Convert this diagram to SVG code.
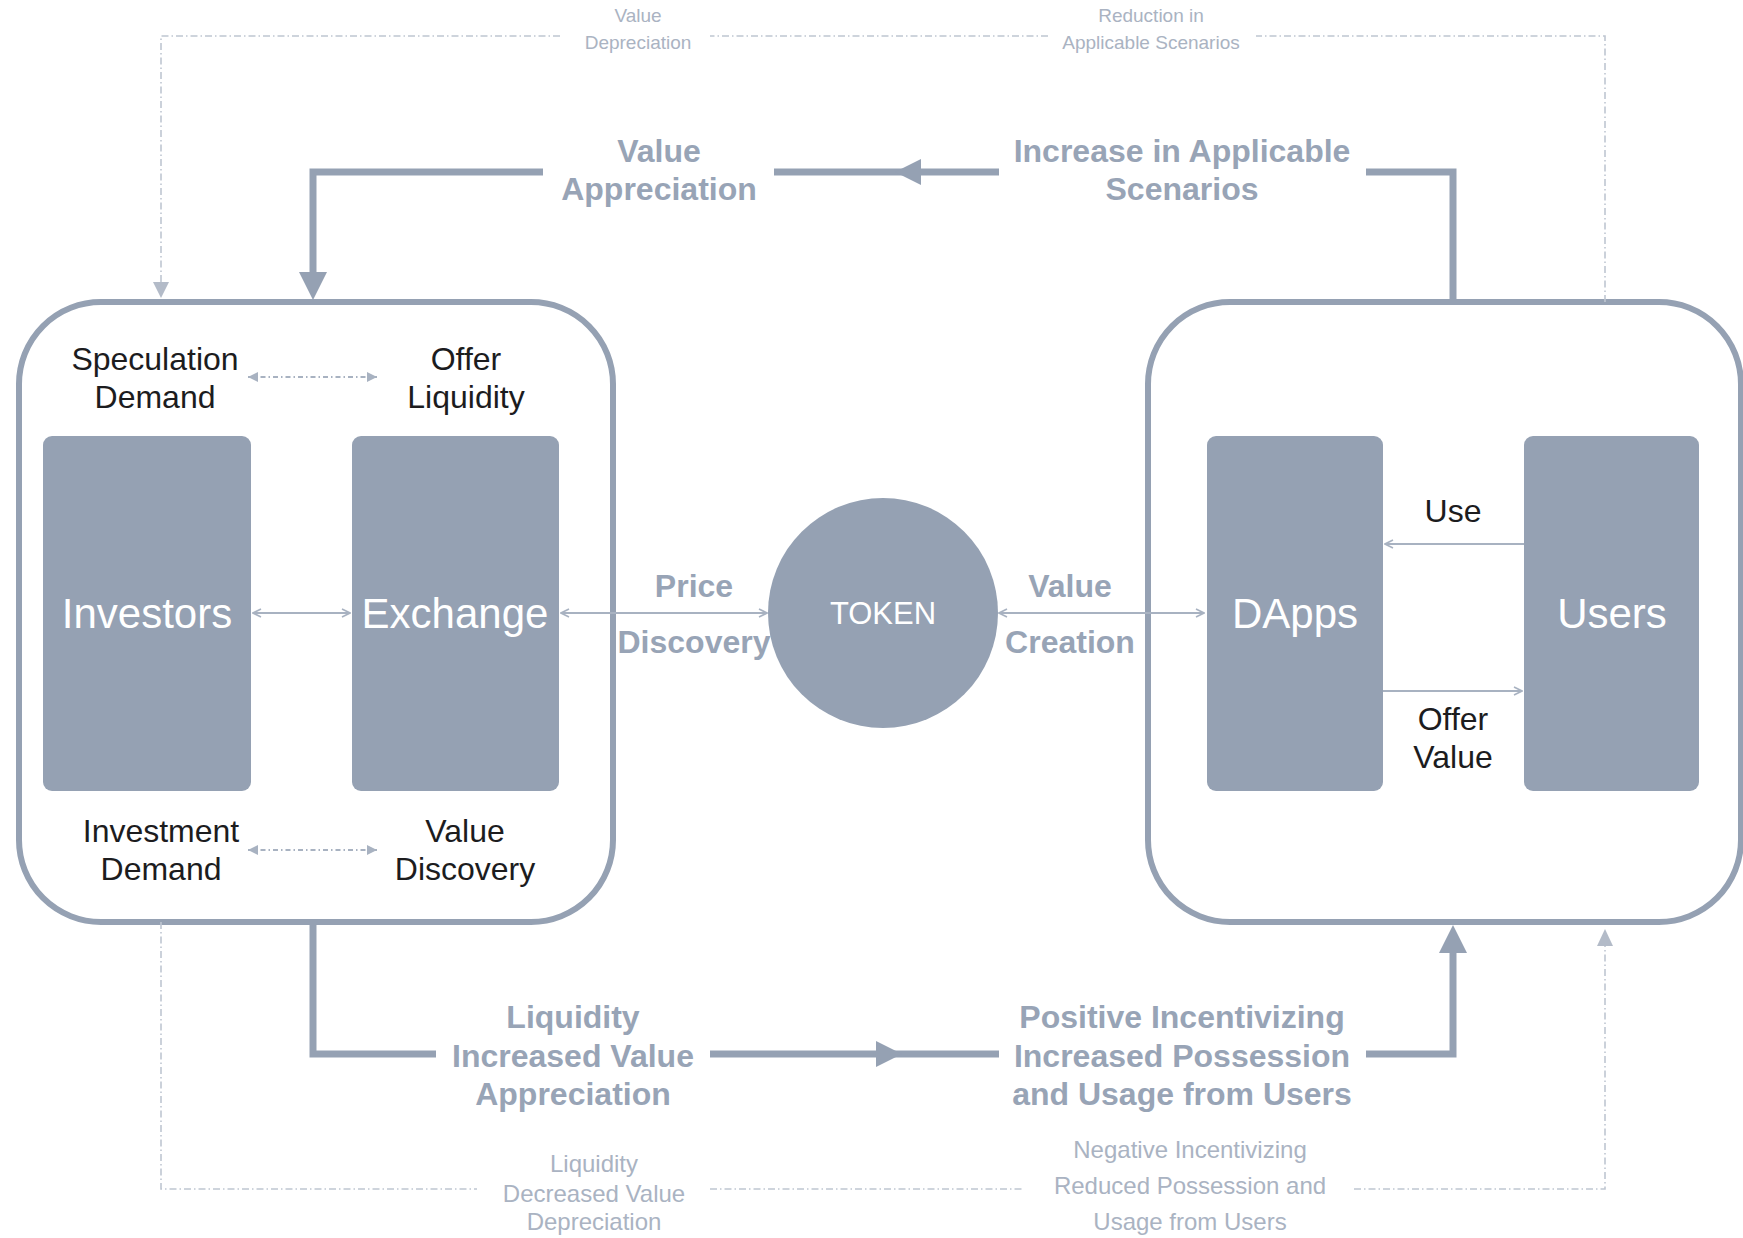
<svg xmlns="http://www.w3.org/2000/svg" width="1743" height="1238" viewBox="0 0 1743 1238">
<style>
text{font-family:"Liberation Sans",Arial,sans-serif;text-anchor:middle}
.bold{font-weight:bold;font-size:32px;fill:#98a4b6}
.blk{font-size:32px;fill:#1c1c1e}
.wht{font-size:42px;fill:#ffffff}
.sm{font-size:19px;fill:#aab3c2}
.md{font-size:24px;fill:#aab3c2}
.frame{fill:#ffffff;stroke:#95a1b3;stroke-width:6}
.blockr{fill:#95a1b3}
.thick{fill:none;stroke:#95a1b3;stroke-width:7}
.thin{fill:none;stroke:#a8b2c1;stroke-width:2}
.dash{fill:none;stroke:#bfc6d1;stroke-width:1.6;stroke-dasharray:7 3 1.5 3}
.dash2{fill:none;stroke:#a8b2c1;stroke-width:2;stroke-dasharray:5 3 1.5 3}
.head{fill:#95a1b3}
.lhead{fill:#b3bbc8}
</style>
<defs>
<marker id="chev" viewBox="0 0 10 10" refX="9" refY="5" markerWidth="10" markerHeight="10" markerUnits="userSpaceOnUse" orient="auto-start-reverse">
<path d="M1,1 L9,5 L1,9" fill="none" stroke="#a8b2c1" stroke-width="1.6"/>
</marker>
<marker id="tri" viewBox="0 0 10 10" refX="10" refY="5" markerWidth="11" markerHeight="10" markerUnits="userSpaceOnUse" orient="auto-start-reverse">
<path d="M0,0 L10,5 L0,10 Z" fill="#a8b2c1"/>
</marker>
</defs>
<rect width="1743" height="1238" fill="#ffffff"/>

<g id="left-group">
<rect class="frame" x="19" y="302" width="594" height="620" rx="82"/>
</g>
<g id="right-group">
<rect class="frame" x="1148" y="302" width="593" height="620" rx="82"/>
</g>

<g id="connectors">
<!-- outer dashed loops -->
<path class="dash" d="M1605,302 V36 H1256"/>
<path class="dash" d="M1048,36 H710"/>
<path class="dash" d="M560,36 H161 V284"/>
<path class="lhead" d="M153,282 L169,282 L161,298 Z"/>
<path class="dash" d="M161,922 V1189 H477"/>
<path class="dash" d="M710,1189 H1023"/>
<path class="dash" d="M1354,1189 H1605 V944"/>
<path class="lhead" d="M1597,946 L1613,946 L1605,929 Z"/>
<!-- thick loops -->
<path class="thick" d="M1453,302 V172 H1366"/>
<path class="thick" d="M999,172 H774"/>
<path class="head" d="M895,172 L921,159 L921,185 Z"/>
<path class="thick" d="M543,172 H313 V276"/>
<path class="head" d="M299,272 L327,272 L313,300 Z"/>
<path class="thick" d="M313,922 V1054 H436"/>
<path class="thick" d="M710,1054 H999"/>
<path class="head" d="M902,1054 L876,1041 L876,1067 Z"/>
<path class="thick" d="M1366,1054 H1453 V950"/>
<path class="head" d="M1439,953 L1467,953 L1453,925 Z"/>
<!-- thin arrows -->
<line class="thin" x1="253" y1="613" x2="350" y2="613" marker-start="url(#chev)" marker-end="url(#chev)"/>
<line class="thin" x1="561" y1="613" x2="767" y2="613" marker-start="url(#chev)" marker-end="url(#chev)"/>
<line class="thin" x1="999" y1="613" x2="1204" y2="613" marker-start="url(#chev)" marker-end="url(#chev)"/>
<line class="thin" x1="1524" y1="544" x2="1385" y2="544" marker-end="url(#chev)"/>
<line class="thin" x1="1383" y1="691" x2="1522" y2="691" marker-end="url(#chev)"/>
<line class="dash2" x1="248" y1="377" x2="377" y2="377" marker-start="url(#tri)" marker-end="url(#tri)"/>
<line class="dash2" x1="248" y1="850" x2="377" y2="850" marker-start="url(#tri)" marker-end="url(#tri)"/>
</g>

<g id="investors">
<rect class="blockr" x="43" y="436" width="208" height="355" rx="9"/>
<text class="wht" x="147" y="628">Investors</text>
</g>
<g id="exchange">
<rect class="blockr" x="352" y="436" width="207" height="355" rx="9"/>
<text class="wht" x="455" y="628">Exchange</text>
</g>
<g id="token">
<circle class="blockr" cx="883" cy="613" r="115"/>
<text x="883" y="624" style="font-size:31px;fill:#ffffff">TOKEN</text>
</g>
<g id="dapps">
<rect class="blockr" x="1207" y="436" width="176" height="355" rx="9"/>
<text class="wht" x="1295" y="628">DApps</text>
</g>
<g id="users">
<rect class="blockr" x="1524" y="436" width="175" height="355" rx="9"/>
<text class="wht" x="1612" y="628">Users</text>
</g>

<g id="labels">
<text class="sm" x="638" y="22">Value</text>
<text class="sm" x="638" y="49">Depreciation</text>
<text class="sm" x="1151" y="22">Reduction in</text>
<text class="sm" x="1151" y="49">Applicable Scenarios</text>
<text class="bold" x="659" y="162">Value</text>
<text class="bold" x="659" y="200">Appreciation</text>
<text class="bold" x="1182" y="162">Increase in Applicable</text>
<text class="bold" x="1182" y="200">Scenarios</text>
<text class="blk" x="155" y="370">Speculation</text>
<text class="blk" x="155" y="408">Demand</text>
<text class="blk" x="466" y="370">Offer</text>
<text class="blk" x="466" y="408">Liquidity</text>
<text class="blk" x="161" y="842">Investment</text>
<text class="blk" x="161" y="880">Demand</text>
<text class="blk" x="465" y="842">Value</text>
<text class="blk" x="465" y="880">Discovery</text>
<text class="bold" x="694" y="597">Price</text>
<text class="bold" x="694" y="653">Discovery</text>
<text class="bold" x="1070" y="597">Value</text>
<text class="bold" x="1070" y="653">Creation</text>
<text class="blk" x="1453" y="522">Use</text>
<text class="blk" x="1453" y="730">Offer</text>
<text class="blk" x="1453" y="768">Value</text>
<text class="bold" x="573" y="1028">Liquidity</text>
<text class="bold" x="573" y="1067">Increased Value</text>
<text class="bold" x="573" y="1105">Appreciation</text>
<text class="bold" x="1182" y="1028">Positive Incentivizing</text>
<text class="bold" x="1182" y="1067">Increased Possession</text>
<text class="bold" x="1182" y="1105">and Usage from Users</text>
<text class="md" x="594" y="1172">Liquidity</text>
<text class="md" x="594" y="1202">Decreased Value</text>
<text class="md" x="594" y="1230">Depreciation</text>
<text class="md" x="1190" y="1158">Negative Incentivizing</text>
<text class="md" x="1190" y="1194">Reduced Possession and</text>
<text class="md" x="1190" y="1230">Usage from Users</text>
</g>
</svg>
